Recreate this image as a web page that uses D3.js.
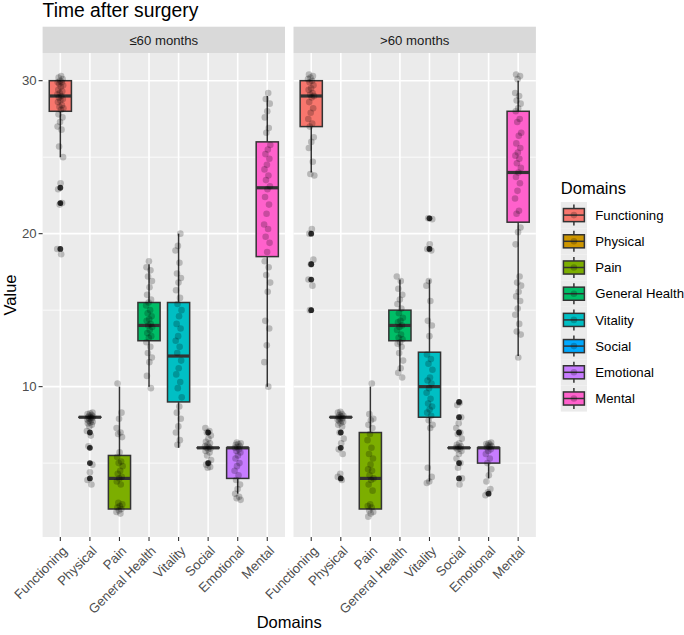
<!DOCTYPE html>
<html>
<head>
<meta charset="utf-8"/>
<script src="https://cdn.jsdelivr.net/npm/d3@7"></script>
<style>
  body { margin: 0; background: #fff; }
  text { font-family: "Liberation Sans", Arial, sans-serif; }
</style>
</head>
<body>
<div id="chart"></div>
<script>
// categories and facets
var domains = ["Functioning", "Physical", "Pain", "General Health", "Vitality", "Social", "Emotional", "Mental"];
var facets = ["≤60 months", ">60 months"];
var domainColors = ["#F8766D", "#CD9600", "#7CAE00", "#00BE67", "#00BFC4", "#00A9FF", "#C77CFF", "#FF61CC"];
var yMajor = [10, 20, 30];
var yMinor = [5, 15, 25];

// box statistics, one row per facet, one value per domain
var whiskerLow  = [[25, 8, 2, 10, 6, 6, 3, 10], [24, 8, 2, 11, 3.8, 6, 4, 12]];
var q1          = [[28, 8, 2, 13, 9, 6, 4, 18.5], [27, 8, 2, 13, 8, 6, 5, 20.75]];
var median      = [[29, 8, 4, 14, 12, 6, 6, 23], [29, 8, 4, 14, 10, 6, 6, 24]];
var q3          = [[30, 8, 5.5, 15.5, 15.5, 6, 6, 26], [30, 8, 7, 15, 12.25, 6, 6, 28]];
var whiskerHigh = [[30, 8, 10, 18, 20, 6, 6, 29], [30, 8, 10, 17, 17, 6, 6, 30]];

// boxplot outliers
var outliers = [
  [[23, 22, 19], [7, 6, 5, 4], [], [], [], [7, 5], [], []],
  [[20, 18, 17, 15], [7, 6, 4], [], [], [21, 19], [9, 8, 7, 5, 4], [3], []]
];

// jittered scores
var scores = [
  [
    [30.3, 30.2, 30.1, 30.0, 29.9, 29.9, 29.8, 29.7, 29.6, 29.4, 29.3, 29.2, 29.1, 29.0, 28.9, 28.8, 28.7, 28.6, 28.4, 28.3, 28.2, 28.1, 27.8, 27.6, 27.3, 27.0, 26.8, 25.7, 25.0, 23.3, 22.9, 22.0, 21.9, 19.0, 18.65],
    [8.3, 8.25, 8.2, 8.15, 8.1, 8.05, 8.0, 8.0, 7.95, 7.9, 7.85, 7.8, 7.75, 7.7, 7.65, 7.6, 7.5, 7.4, 7.1, 6.8, 6.1, 4.9, 4.4, 3.9, 3.6],
    [10.2, 8.3, 7.9, 7.3, 7.0, 6.9, 6.7, 5.7, 5.4, 5.1, 5.0, 4.8, 4.5, 4.3, 4.1, 4.0, 3.8, 3.6, 2.4, 2.3, 2.2, 2.1, 2.0, 1.9, 1.8, 1.7],
    [18.2, 17.8, 17.6, 17.2, 16.9, 16.5, 16.0, 15.7, 15.5, 15.3, 15.0, 14.8, 14.6, 14.4, 14.3, 14.1, 14.0, 13.9, 13.7, 13.5, 13.3, 13.2, 12.9, 12.6, 12.2, 11.9, 11.6, 10.7, 9.9],
    [20.0, 19.2, 18.9, 18.1, 17.4, 17.1, 16.8, 16.3, 15.8, 15.4, 15.0, 14.6, 14.1, 13.8, 13.3, 13.0, 12.6, 12.2, 11.7, 11.2, 10.8, 10.3, 9.9, 9.3, 8.7, 8.3, 7.9, 7.4, 7.0, 6.5, 6.2],
    [7.3, 7.1, 7.0, 6.8, 6.6, 6.4, 6.3, 6.2, 6.1, 6.05, 6.0, 5.95, 5.9, 5.8, 5.7, 5.5, 5.2, 5.0, 4.9, 4.75, 4.7],
    [6.35, 6.3, 6.25, 6.2, 6.1, 6.05, 6.0, 5.9, 5.8, 5.7, 5.5, 5.3, 5.0, 4.8, 4.5, 4.2, 3.9, 3.6, 3.3, 3.0, 2.8, 2.7, 2.6],
    [29.2, 28.8, 28.5, 28.0, 27.6, 26.9, 26.6, 25.8, 25.5, 25.2, 24.9, 24.5, 24.2, 23.8, 23.5, 23.1, 22.9, 22.4, 21.9, 21.3, 20.6, 20.3, 19.8, 19.4, 18.8, 18.2, 17.8, 17.3, 16.8, 16.2, 14.3, 13.8, 12.7, 11.6, 10.0]
  ],
  [
    [30.4, 30.3, 30.2, 30.1, 30.0, 29.9, 29.7, 29.5, 29.4, 29.2, 29.1, 29.0, 28.9, 28.6, 28.2, 27.9, 27.5, 27.2, 27.0, 26.3, 26.0, 25.6, 24.7, 23.9, 23.8, 20.3, 20.0, 18.3, 18.0, 17.0, 16.6, 15.0],
    [8.35, 8.3, 8.2, 8.15, 8.1, 8.05, 8.0, 7.95, 7.9, 7.85, 7.8, 7.75, 7.7, 7.6, 7.5, 7.4, 7.0, 6.6, 6.3, 5.9, 5.6, 4.3, 4.1, 3.9],
    [10.2, 8.2, 7.9, 7.8, 7.5, 7.3, 6.9, 6.5, 6.0, 5.6, 5.3, 4.9, 4.6, 4.5, 4.2, 4.0, 3.9, 3.6, 3.2, 2.3, 2.2, 2.1, 1.9, 1.8, 1.7, 1.5],
    [17.2, 16.9, 16.4, 16.0, 15.7, 15.4, 15.1, 14.8, 14.5, 14.3, 14.2, 14.0, 13.9, 13.7, 13.4, 13.2, 13.1, 12.9, 12.8, 12.6, 12.2, 11.7, 11.2, 10.9, 10.6],
    [21.0, 20.95, 19.3, 19.0, 18.9, 16.9, 16.6, 15.6, 14.3, 14.0, 13.3, 12.1, 11.8, 11.5, 11.1, 10.6, 10.4, 10.2, 9.9, 9.6, 9.2, 8.9, 8.7, 8.5, 8.3, 8.1, 7.8, 7.5, 7.3, 4.7, 4.1, 3.8, 3.7],
    [8.95, 8.8, 8.0, 7.6, 7.3, 7.0, 6.9, 6.6, 6.3, 6.2, 6.1, 6.05, 6.0, 5.95, 5.9, 5.8, 5.6, 5.3, 5.0, 4.7, 4.0, 3.6],
    [6.35, 6.3, 6.25, 6.2, 6.15, 6.1, 6.05, 6.0, 5.9, 5.8, 5.6, 5.3, 5.0, 4.6, 4.2, 3.8, 3.3, 3.1, 2.9],
    [30.4, 30.3, 30.1, 29.2, 29.0, 28.7, 28.5, 28.2, 28.0, 27.5, 27.3, 26.6, 26.4, 25.9, 25.6, 25.3, 25.1, 24.9, 24.6, 24.3, 24.0, 23.7, 23.3, 22.8, 22.3, 21.5, 21.3, 20.4, 20.1, 19.3, 17.2, 16.8, 16.6, 16.2, 15.9, 15.6, 15.1, 14.7, 14.1, 13.6, 13.4, 11.9]
  ]
];

var W = 684, H = 635;
var panelTop = 53, panelBottom = 537;
var panelW = 242.4;
var panelLeft = [42.6, 293.5];
var stripTop = 26.7;
var jitterPx = 3.2;

var svg = d3.select("#chart").append("svg")
  .attr("width", W).attr("height", H);
svg.append("rect").attr("width", W).attr("height", H).attr("fill", "#fff");

var y = d3.scaleLinear().domain([0.17, 31.81]).range([panelBottom, panelTop]);

// title
svg.append("text").attr("x", panelLeft[0]).attr("y", 17)
  .attr("font-size", 19.3).attr("fill", "#000").text("Time after surgery");

facets.forEach(function (facet, f) {
  var left = panelLeft[f];
  var x = d3.scalePoint().domain(domains).range([left, left + panelW]).padding(0.6);
  var g = svg.append("g");

  g.append("rect").attr("x", left).attr("y", panelTop)
    .attr("width", panelW).attr("height", panelBottom - panelTop).attr("fill", "#ebebeb");

  g.selectAll(".minor").data(yMinor).enter().append("line")
    .attr("x1", left).attr("x2", left + panelW)
    .attr("y1", function (d) { return y(d); }).attr("y2", function (d) { return y(d); })
    .attr("stroke", "#fff").attr("stroke-width", 0.8);
  g.selectAll(".major").data(yMajor).enter().append("line")
    .attr("x1", left).attr("x2", left + panelW)
    .attr("y1", function (d) { return y(d); }).attr("y2", function (d) { return y(d); })
    .attr("stroke", "#fff").attr("stroke-width", 1.6);
  g.selectAll(".vgrid").data(domains).enter().append("line")
    .attr("x1", function (d) { return x(d); }).attr("x2", function (d) { return x(d); })
    .attr("y1", panelTop).attr("y2", panelBottom)
    .attr("stroke", "#fff").attr("stroke-width", 1.6);

  // strip
  g.append("rect").attr("x", left).attr("y", stripTop)
    .attr("width", panelW).attr("height", panelTop - stripTop).attr("fill", "#d9d9d9");
  g.append("text").attr("x", left + panelW / 2).attr("y", (stripTop + panelTop) / 2)
    .attr("dy", "0.36em").attr("text-anchor", "middle")
    .attr("font-size", 13.2).attr("fill", "#1a1a1a").text(facet);

  var boxW = x.step() * 0.75;

  domains.forEach(function (dom, d) {
    var cx = x(dom);
    var bg = g.append("g");
    bg.append("line").attr("x1", cx).attr("x2", cx)
      .attr("y1", y(whiskerLow[f][d])).attr("y2", y(whiskerHigh[f][d]))
      .attr("stroke", "#333").attr("stroke-width", 1.5);
    bg.append("rect").attr("x", cx - boxW / 2).attr("y", y(q3[f][d]))
      .attr("width", boxW).attr("height", Math.max(0.01, y(q1[f][d]) - y(q3[f][d])))
      .attr("fill", domainColors[d]).attr("stroke", "#333").attr("stroke-width", 1.5);
    bg.append("line").attr("x1", cx - boxW / 2).attr("x2", cx + boxW / 2)
      .attr("y1", y(median[f][d])).attr("y2", y(median[f][d]))
      .attr("stroke", "#333").attr("stroke-width", 3.2);

    bg.selectAll(".out").data(outliers[f][d]).enter().append("circle")
      .attr("cx", cx).attr("cy", function (v) { return y(v); })
      .attr("r", 2.9).attr("fill", "#333");

    bg.selectAll(".pt").data(scores[f][d]).enter().append("circle")
      .attr("cx", function (v, i) {
        var u = ((i + 1) * 0.618034 + d * 0.29 + f * 0.53) % 1;
        return cx + (u - 0.5) * 2 * jitterPx;
      })
      .attr("cy", function (v) { return y(v); })
      .attr("r", 3.3).attr("fill", "#000").attr("fill-opacity", 0.22);
  });

  // x axis
  g.selectAll(".xt").data(domains).enter().append("line")
    .attr("x1", function (d) { return x(d); }).attr("x2", function (d) { return x(d); })
    .attr("y1", panelBottom).attr("y2", panelBottom + 4)
    .attr("stroke", "#333").attr("stroke-width", 1.1);
  g.selectAll(".xl").data(domains).enter().append("text")
    .attr("transform", function (d) { return "translate(" + (x(d) + 1) + "," + (panelBottom + 8) + ") rotate(-45)"; })
    .attr("text-anchor", "end").attr("dy", "0.72em")
    .attr("font-size", 13.2).attr("fill", "#4d4d4d").text(function (d) { return d; });
});

// y axis
var ya = svg.append("g");
ya.selectAll("line").data(yMajor).enter().append("line")
  .attr("x1", panelLeft[0] - 4).attr("x2", panelLeft[0])
  .attr("y1", function (d) { return y(d); }).attr("y2", function (d) { return y(d); })
  .attr("stroke", "#333").attr("stroke-width", 1.1);
ya.selectAll("text").data(yMajor).enter().append("text")
  .attr("x", panelLeft[0] - 6).attr("y", function (d) { return y(d); })
  .attr("dy", "0.36em").attr("text-anchor", "end")
  .attr("font-size", 13.2).attr("fill", "#4d4d4d").text(function (d) { return d; });

// axis titles
svg.append("text")
  .attr("transform", "translate(16," + (panelTop + panelBottom) / 2 + ") rotate(-90)")
  .attr("text-anchor", "middle").attr("font-size", 16.5).attr("fill", "#000").text("Value");
svg.append("text")
  .attr("x", (panelLeft[0] + panelLeft[1] + panelW) / 2).attr("y", 628)
  .attr("text-anchor", "middle").attr("font-size", 16.5).attr("fill", "#000").text("Domains");

// legend
var lx = 560.8, ly = 202, key = 26.2;
svg.append("text").attr("x", lx).attr("y", 193.5)
  .attr("font-size", 16.5).attr("fill", "#000").text("Domains");
var lg = svg.selectAll(".key").data(domains).enter().append("g")
  .attr("transform", function (d, i) { return "translate(" + lx + "," + (ly + i * key) + ")"; });
lg.append("rect").attr("width", key).attr("height", key).attr("fill", "#ebebeb");
lg.append("line").attr("x1", key / 2).attr("x2", key / 2)
  .attr("y1", key * 0.1).attr("y2", key * 0.9).attr("stroke", "#333").attr("stroke-width", 1.5);
lg.append("rect").attr("x", key * 0.1).attr("y", key * 0.25)
  .attr("width", key * 0.8).attr("height", key * 0.5)
  .attr("fill", function (d, i) { return domainColors[i]; })
  .attr("stroke", "#333").attr("stroke-width", 1.5);
lg.append("line").attr("x1", key * 0.1).attr("x2", key * 0.9)
  .attr("y1", key / 2).attr("y2", key / 2).attr("stroke", "#333").attr("stroke-width", 1.5);
lg.append("circle").attr("cx", key / 2).attr("cy", key / 2).attr("r", 3.3)
  .attr("fill", "#000").attr("fill-opacity", 0.22);
lg.append("text").attr("x", key + 8.3).attr("y", key / 2).attr("dy", "0.36em")
  .attr("font-size", 13.2).attr("fill", "#000").text(function (d) { return d; });
</script>
</body>
</html>
